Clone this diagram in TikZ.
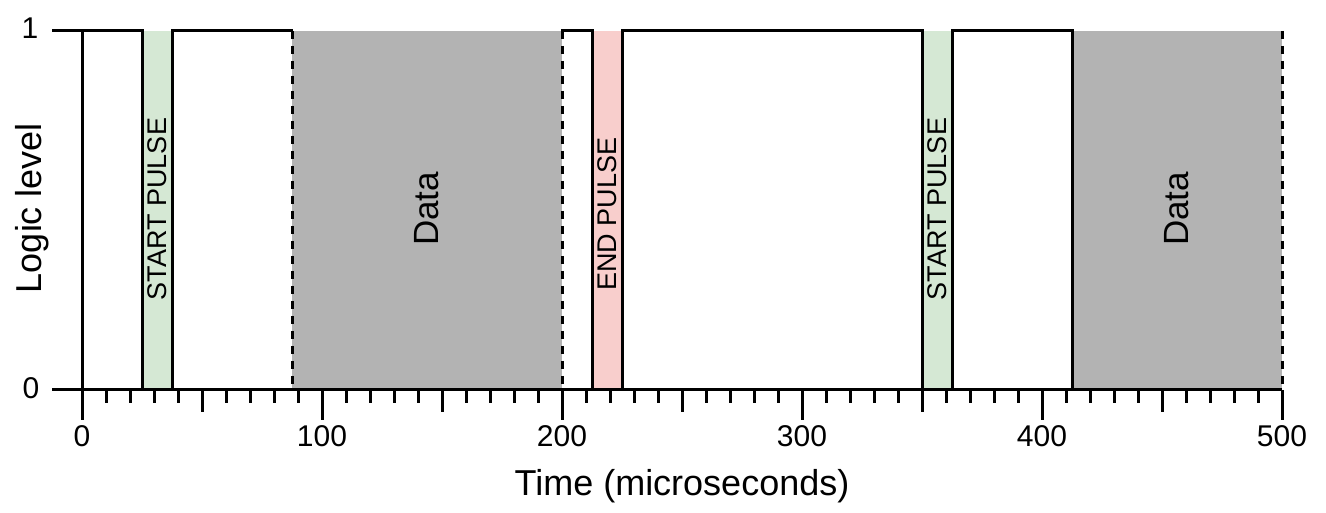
\documentclass[tikz,border=0pt]{standalone}
\usepackage{fontspec}
\setmainfont{Liberation Sans}
\definecolor{pulsegreen}{HTML}{D5E8D4}
\definecolor{pulsered}{HTML}{F8CECC}
\definecolor{datagray}{HTML}{B3B3B3}
\begin{document}
\begin{tikzpicture}[x=1pt,y=1pt,
  sig/.style={line width=3pt, line join=miter},
  dashedge/.style={line width=3pt, dash pattern=on 8pt off 7pt},
  ticklbl/.style={font=\fontsize{30}{30}\selectfont, inner sep=0pt},
  axlbl/.style={font=\fontsize{36}{36}\selectfont, inner sep=0pt},
  bandlbl/.style={font=\fontsize{27}{27}\selectfont, inner sep=0pt, rotate=90},
  datalbl/.style={font=\fontsize{35}{35}\selectfont, inner sep=0pt, rotate=90}]
\useasboundingbox (0,0) rectangle (1326,513);
% fills
\fill[pulsegreen] (142,123) rectangle (172,482);
\fill[pulsegreen] (922,123) rectangle (952,482);
\fill[pulsered] (592,123) rectangle (622,482);
\fill[datagray] (292,123) rectangle (562,482);
\fill[datagray] (1072,123) rectangle (1282,482);
% ticks
\foreach \t in {0,10,...,500}{
  \pgfmathsetmacro{\px}{82+2.4*\t}
  \pgfmathtruncatemacro{\m}{mod(\t,100)}
  \pgfmathtruncatemacro{\h}{mod(\t,50)}
  \ifnum\m=0 \def\len{30}\else\ifnum\h=0 \def\len{22}\else\def\len{13}\fi\fi
  \draw[line width=3pt] (\px,123) -- (\px,123-\len);
}
% axis
\draw[line width=3pt] (52,123) -- (1282,123);
% signal
\draw[sig] (52,482) -- (142,482) -- (142,123);
\draw[sig] (82,482) -- (82,123);
\draw[sig] (172,123) -- (172,482) -- (293,482);
\draw[sig] (561,482) -- (592,482) -- (592,123);
\draw[sig] (622,123) -- (622,482) -- (922,482) -- (922,123);
\draw[sig] (952,123) -- (952,482) -- (1072,482) -- (1072,123);
\draw[dashedge] (292,482) -- (292,123);
\draw[dashedge] (562,482) -- (562,123);
\draw[dashedge] (1282,482) -- (1282,123);
% labels
\node[ticklbl] (y1) at (30,485) {1};
\node[ticklbl] (y0) at (31,125) {0};
\node[ticklbl] (x0) at (82,77) {0};
\node[ticklbl] (x100) at (322,77) {100};
\node[ticklbl] (x200) at (562,77) {200};
\node[ticklbl] (x300) at (802,77) {300};
\node[ticklbl] (x400) at (1042,77) {400};
\node[ticklbl] (x500) at (1282,77) {500};
\node[axlbl] (xlab) at (682,27) {Time (microseconds)};
\node[axlbl, rotate=90] (ylab) at (32.5,305) {Logic level};
\node[bandlbl] (sp1) at (157.5,304) {START PULSE};
\node[bandlbl] (ep) at (607.5,299) {END PULSE};
\node[bandlbl] (sp2) at (937.5,304) {START PULSE};
\node[datalbl] (d1) at (427,304) {Data};
\node[datalbl] (d2) at (1177,304) {Data};
\end{tikzpicture}
\end{document}
